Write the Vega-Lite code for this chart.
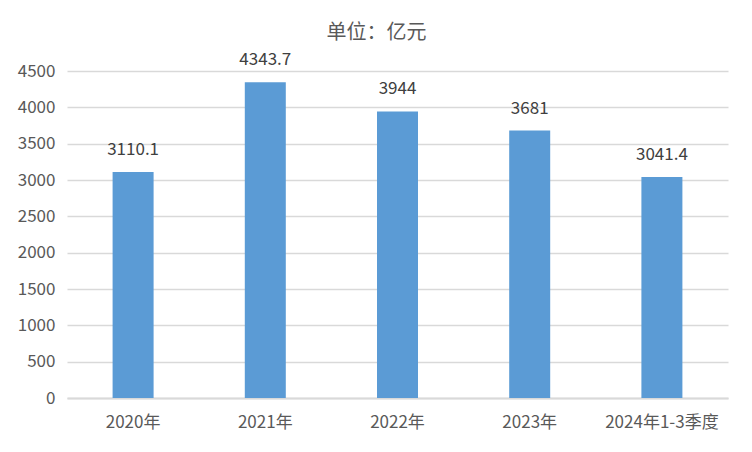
{
  "$schema": "https://vega.github.io/schema/vega-lite/v6.json",
  "width": 661,
  "height": 327,
  "autosize": {"type": "none"},
  "padding": {"left": 67, "top": 71, "right": 24, "bottom": 54},
  "background": "white",
  "title": {
    "text": "单位：亿元",
    "font": "Noto Sans CJK SC",
    "fontSize": 20,
    "fontWeight": "normal",
    "color": "#595959",
    "anchor": "middle",
    "dx": -21,
    "offset": 31,
    "baseline": "top",
    "dy": 23
  },
  "data": {
    "values": [
      {"period": "2020年", "value": 3110.1, "label": "3110.1"},
      {"period": "2021年", "value": 4343.7, "label": "4343.7"},
      {"period": "2022年", "value": 3944, "label": "3944"},
      {"period": "2023年", "value": 3681, "label": "3681"},
      {"period": "2024年1-3季度", "value": 3041.4, "label": "3041.4"}
    ]
  },
  "encoding": {
    "x": {
      "field": "period",
      "type": "nominal",
      "sort": null,
      "scale": {"paddingInner": 0, "paddingOuter": 0},
      "axis": {
        "title": null,
        "labelAngle": 0,
        "ticks": false,
        "domainColor": "#d9d9d9",
        "domainWidth": 2,
        "labelFont": "Noto Sans CJK SC",
        "labelFontSize": 17,
        "labelColor": "#595959",
        "labelPadding": 16
      }
    },
    "y": {
      "field": "value",
      "type": "quantitative",
      "scale": {"domain": [0, 4500], "nice": false},
      "axis": {
        "title": null,
        "format": "d",
        "values": [0, 500, 1000, 1500, 2000, 2500, 3000, 3500, 4000, 4500],
        "domain": false,
        "ticks": false,
        "gridColor": "#d9d9d9",
        "gridWidth": 1.5,
        "labelFont": "Noto Sans CJK SC",
        "labelFontSize": 17,
        "labelColor": "#595959",
        "labelPadding": 12
      }
    }
  },
  "layer": [
    {"mark": {"type": "bar", "size": 41, "color": "#5B9BD5"}},
    {
      "mark": {
        "type": "text",
        "dy": -22,
        "font": "Noto Sans CJK SC",
        "fontSize": 17,
        "color": "#404040"
      },
      "encoding": {"text": {"field": "label"}}
    }
  ],
  "config": {"view": {"stroke": null}}
}
